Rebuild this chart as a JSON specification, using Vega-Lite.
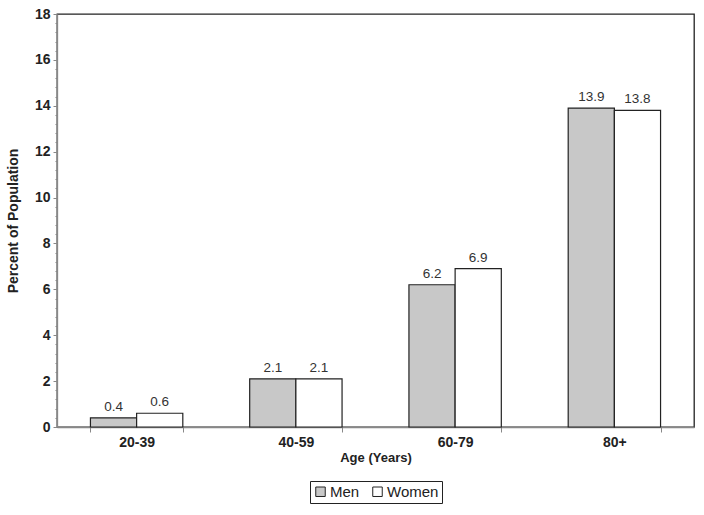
{
  "$schema": "https://vega.github.io/schema/vega-lite/v6.json",
  "autosize": "none",
  "width": 637,
  "height": 413,
  "padding": {"left": 57, "top": 14, "right": 10, "bottom": 88},
  "background": "white",
  "config": {
    "font": "Liberation Sans",
    "view": {"stroke": "#222", "strokeWidth": 1.3}
  },
  "data": {
    "values": [
      {"age": "20-39", "sex": "Men", "value": 0.4},
      {"age": "20-39", "sex": "Women", "value": 0.6},
      {"age": "40-59", "sex": "Men", "value": 2.1},
      {"age": "40-59", "sex": "Women", "value": 2.1},
      {"age": "60-79", "sex": "Men", "value": 6.2},
      {"age": "60-79", "sex": "Women", "value": 6.9},
      {"age": "80+", "sex": "Men", "value": 13.9},
      {"age": "80+", "sex": "Women", "value": 13.8}
    ]
  },
  "encoding": {
    "x": {
      "field": "age",
      "type": "nominal",
      "sort": null,
      "scale": {"paddingInner": 0.42, "paddingOuter": 0.21},
      "axis": {
        "title": "Age (Years)",
        "titleFontSize": 13,
        "titleFontWeight": "bold",
        "titleColor": "#222",
        "titlePadding": 2,
        "labelAngle": 0,
        "labelFontSize": 14,
        "labelFontWeight": "bold",
        "labelColor": "#222",
        "labelPadding": 3,
        "tickBand": "extent",
        "tickColor": "#888",
        "tickSize": 5,
        "domainColor": "#888",
        "domainWidth": 1.3,
        "grid": false
      }
    },
    "xOffset": {"field": "sex", "type": "nominal", "sort": ["Men", "Women"]},
    "y": {
      "field": "value",
      "type": "quantitative",
      "scale": {"domain": [0, 18], "nice": false},
      "axis": {
        "title": "Percent of Population",
        "titleFontSize": 14,
        "titleFontWeight": "bold",
        "titleColor": "#222",
        "titlePadding": 14,
        "values": [0, 0.4, 0.8, 1.2, 1.6, 2, 2.4, 2.8, 3.2, 3.6, 4, 4.4, 4.8, 5.2, 5.6, 6, 6.4, 6.8, 7.2, 7.6, 8, 8.4, 8.8, 9.2, 9.6, 10, 10.4, 10.8, 11.2, 11.6, 12, 12.4, 12.8, 13.2, 13.6, 14, 14.4, 14.8, 15.2, 15.6, 16, 16.4, 16.8, 17.2, 17.6, 18],
        "labelExpr": "abs(datum.value - round(datum.value/2)*2) < 0.01 ? format(datum.value, 'd') : ''",
        "labelFontSize": 14,
        "labelFontWeight": "bold",
        "labelColor": "#222",
        "labelPadding": 3,
        "tickColor": "#888",
        "tickSize": {"condition": {"test": "abs(datum.value - round(datum.value/2)*2) < 0.01", "value": 4}, "value": 2},
        "domainColor": "#888",
        "domainWidth": 1.3,
        "grid": false,
        "labelOverlap": false
      }
    }
  },
  "layer": [
    {
      "mark": {"type": "bar", "stroke": "#222", "strokeWidth": 1.2},
      "encoding": {
        "fill": {
          "field": "sex",
          "type": "nominal",
          "scale": {"domain": ["Men", "Women"], "range": ["#c8c8c8", "#ffffff"]},
          "legend": {
            "title": null,
            "orient": "none",
            "direction": "horizontal",
            "legendX": 253,
            "legendY": 467,
            "strokeColor": "#222",
            "padding": 3,
            "symbolType": "square",
            "symbolSize": 90,
            "symbolStrokeColor": "#222",
            "symbolStrokeWidth": 1,
            "labelFontSize": 15,
            "labelColor": "#222",
            "labelOffset": 2,
            "columnPadding": 10
          }
        }
      }
    },
    {
      "mark": {"type": "text", "dy": -11, "fontSize": 13.5, "fill": "#333"},
      "encoding": {
        "text": {"field": "value", "type": "quantitative", "format": ".1f"}
      }
    }
  ]
}
